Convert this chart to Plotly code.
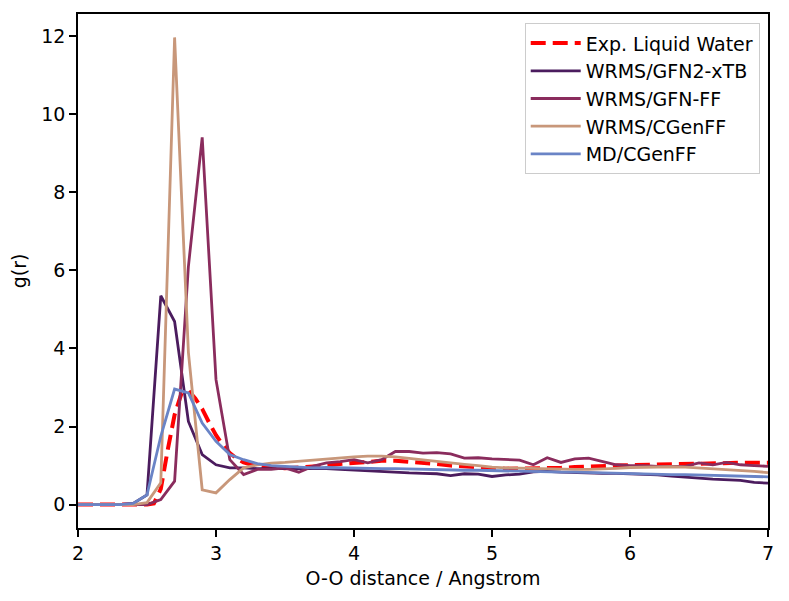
import plotly.graph_objects as go

# ---------------- data ----------------
r_exp = [2.0, 2.1, 2.2, 2.3, 2.4, 2.5, 2.55, 2.6, 2.65, 2.7, 2.75, 2.8, 2.85, 2.9, 2.95,
         3.0, 3.05, 3.1, 3.15, 3.2, 3.3, 3.4, 3.5, 3.6, 3.7, 3.8, 3.9, 4.0, 4.1, 4.2,
         4.3, 4.4, 4.5, 4.6, 4.7, 4.8, 4.9, 5.0, 5.1, 5.2, 5.3, 5.4, 5.5, 5.6, 5.7,
         5.8, 5.9, 6.0, 6.1, 6.2, 6.3, 6.4, 6.5, 6.6, 6.7, 6.8, 6.9, 7.0]
g_exp = [0.0, 0.0, 0.0, 0.0, 0.0, 0.0, 0.03, 0.4, 1.4, 2.3, 2.85, 2.92, 2.72, 2.45, 2.1,
         1.78, 1.52, 1.32, 1.18, 1.08, 0.98, 0.94, 0.93, 0.95, 0.97, 1.0, 1.04, 1.07, 1.1, 1.12,
         1.12, 1.1, 1.07, 1.04, 1.0, 0.97, 0.95, 0.93, 0.92, 0.92, 0.92, 0.93, 0.94, 0.96, 0.98,
         0.99, 1.0, 1.01, 1.02, 1.03, 1.04, 1.05, 1.05, 1.06, 1.06, 1.07, 1.07, 1.07]

r_sim = [2.0, 2.1, 2.2, 2.3, 2.4, 2.5, 2.6, 2.7, 2.8, 2.9, 3.0, 3.1, 3.2, 3.3, 3.4,
         3.5, 3.6, 3.7, 3.8, 3.9, 4.0, 4.1, 4.2, 4.3, 4.4, 4.5, 4.6, 4.7, 4.8, 4.9,
         5.0, 5.1, 5.2, 5.3, 5.4, 5.5, 5.6, 5.7, 5.8, 5.9, 6.0, 6.1, 6.2, 6.3, 6.4,
         6.5, 6.6, 6.7, 6.8, 6.9, 7.0]

g_gfn2xtb = [0.0, 0.0, 0.0, 0.0, 0.03, 0.25, 5.35, 4.69, 2.13, 1.28, 1.02, 0.94, 0.94, 0.92, 0.92,
             0.92, 0.93, 0.93, 0.92, 0.9, 0.88, 0.86, 0.85, 0.82, 0.81, 0.8, 0.79, 0.74, 0.79, 0.78,
             0.72, 0.76, 0.78, 0.84, 0.85, 0.83, 0.82, 0.8, 0.8, 0.8, 0.79, 0.77, 0.76, 0.73, 0.71,
             0.68, 0.65, 0.63, 0.62, 0.57, 0.55]

g_gfnff = [0.0, 0.0, 0.0, 0.0, 0.0, 0.0, 0.13, 0.6, 6.1, 9.41, 3.2, 1.15, 0.77, 0.9, 0.9,
           0.94, 0.83, 0.98, 1.07, 1.1, 1.15, 1.07, 1.15, 1.36, 1.36, 1.32, 1.33, 1.3, 1.19, 1.2,
           1.17, 1.15, 1.14, 1.02, 1.2, 1.08, 1.17, 1.19, 1.11, 1.02, 1.0, 1.0, 0.98, 0.98, 0.98,
           1.07, 1.02, 1.08, 1.02, 1.0, 0.98]

g_wrms_cgenff = [0.0, 0.0, 0.0, 0.0, 0.0, 0.05, 0.56, 11.97, 3.9, 0.38, 0.3, 0.64, 0.94, 1.02, 1.06,
                 1.08, 1.11, 1.14, 1.17, 1.19, 1.22, 1.24, 1.24, 1.22, 1.18, 1.14, 1.1, 1.06, 1.03, 1.0,
                 0.96, 0.94, 0.93, 0.93, 0.92, 0.91, 0.9, 0.9, 0.91, 0.93, 0.95, 0.96, 0.97, 0.97, 0.96,
                 0.94, 0.92, 0.9, 0.87, 0.85, 0.82]

g_md_cgenff = [0.0, 0.0, 0.0, 0.0, 0.03, 0.25, 1.75, 2.96, 2.86, 2.09, 1.62, 1.28, 1.15, 1.05, 1.0,
               0.98, 0.96, 0.94, 0.95, 0.94, 0.93, 0.93, 0.92, 0.92, 0.91, 0.9, 0.9, 0.89, 0.88, 0.88,
               0.87, 0.86, 0.86, 0.85, 0.84, 0.83, 0.83, 0.82, 0.81, 0.81, 0.8, 0.79, 0.78, 0.77, 0.77,
               0.76, 0.75, 0.74, 0.73, 0.72, 0.71]

names = ["Exp. Liquid Water", "WRMS/GFN2-xTB", "WRMS/GFN-FF", "WRMS/CGenFF", "MD/CGenFF"]
colors = ["#ff0000", "#4b1c5e", "#8a2c5d", "#c8977a", "#6a84c6"]

x_ticks = [2, 3, 4, 5, 6, 7]
y_ticks = [0, 2, 4, 6, 8, 10, 12]

# ---------------- figure ----------------
fig = go.Figure()
fig.add_trace(go.Scatter(x=r_exp, y=g_exp, mode="lines", name=names[0],
                         line=dict(color=colors[0], width=4, dash="15px,7px")))
series = [g_gfn2xtb, g_gfnff, g_wrms_cgenff, g_md_cgenff]
for i, g in enumerate(series):
    fig.add_trace(go.Scatter(x=r_sim, y=g, mode="lines", name=names[i + 1],
                             line=dict(color=colors[i + 1], width=2.8)))

font = "DejaVu Sans"
FS = 19
axis_common = dict(showline=True, linecolor="black", linewidth=1.5, mirror=True,
                   ticks="outside", ticklen=7, tickwidth=1.5, tickcolor="black",
                   showgrid=False, zeroline=False, automargin=False,
                   tickfont=dict(family=font, size=FS, color="black"))

# the page body has an 8px margin, so the figure is sized/offset to compensate
fig.update_layout(
    width=773, height=585,
    margin=dict(l=70, r=13, t=6, b=65),
    paper_bgcolor="white", plot_bgcolor="white",
    font=dict(family=font, size=FS, color="black"),
    showlegend=True,
    legend=dict(x=0.988, y=0.982, xanchor="right", yanchor="top",
                bgcolor="rgba(255,255,255,0.8)", bordercolor="#cccccc", borderwidth=1,
                font=dict(family=font, size=FS, color="black"),
                itemwidth=50, tracegroupgap=0),
    xaxis=dict(range=[2, 7], tickvals=x_ticks,
               title=dict(text="O-O distance / Angstrom", font=dict(family=font, size=FS), standoff=9),
               **axis_common),
    yaxis=dict(range=[-0.6, 12.57], tickvals=y_ticks,
               title=dict(text="g(r)", font=dict(family=font, size=FS), standoff=11),
               **axis_common),
)

fig.write_html("out.html")
